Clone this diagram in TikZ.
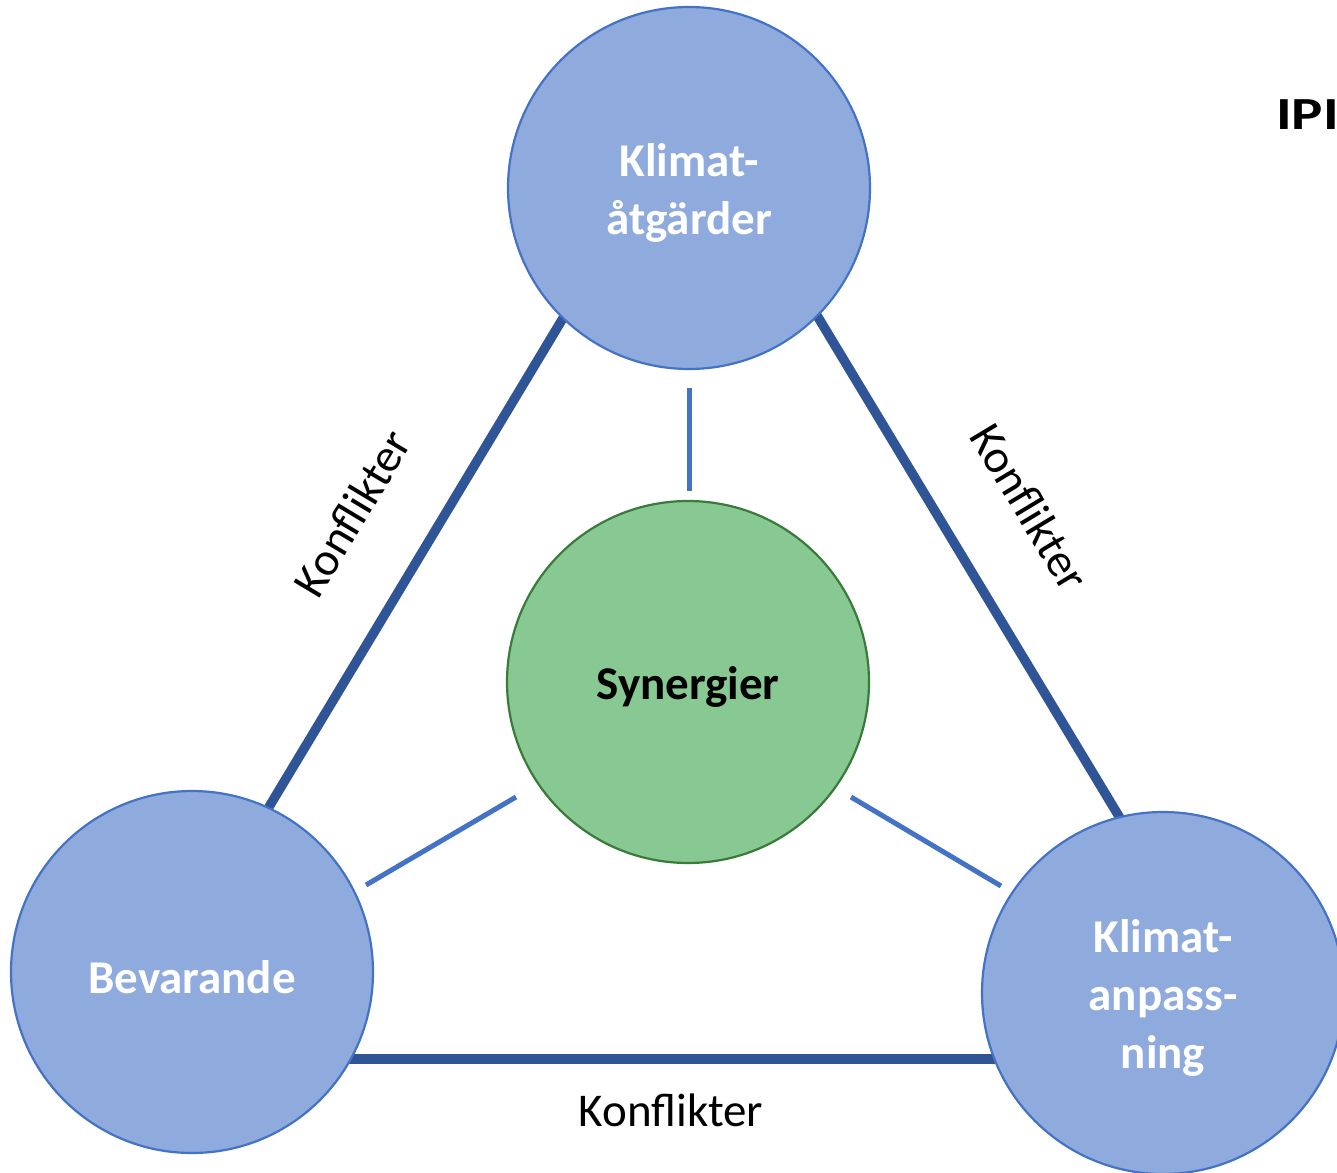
\documentclass[tikz,border=0pt]{standalone}
\usepackage{fontspec}
\setmainfont{Carlito}
\usetikzlibrary{backgrounds}
\definecolor{cfill}{HTML}{8FAADC}
\definecolor{cborder}{HTML}{4472C4}
\definecolor{cdark}{HTML}{2F5597}
\definecolor{gfill}{HTML}{87C893}
\definecolor{gborder}{HTML}{3A7A3A}
\tikzset{
  bigcirc/.style={circle, minimum size=362pt, inner sep=0pt, line width=2.2pt, draw=cborder, fill=cfill},
  syncirc/.style={circle, minimum size=362pt, inner sep=0pt, line width=2.2pt, draw=gborder, fill=gfill},
  ctext/.style={align=center, font=\fontsize{47}{58}\selectfont\bfseries, text=white, inner sep=0pt, yshift=-5pt},
  conflict/.style={line width=9.5pt, draw=cdark},
  synline/.style={line width=5pt, draw=cborder},
  lbl/.style={font=\fontsize{47}{57}\selectfont, text=black, inner sep=0pt}
}
\begin{document}
\begin{tikzpicture}[x=1pt,y=-1pt]
\useasboundingbox (0,0) rectangle (1337,1172);
\begin{scope}
\clip (0,0) rectangle (1337,1172);
% circles
\node[bigcirc, label={[ctext]center:{Klimat-\\åtgärder}}] (top) at (689,188) {};
\node[syncirc, label={[ctext, text=black]center:{Synergier}}] (syn) at (688,682) {};
\node[bigcirc, label={[ctext]center:{Bevarande}}] (bev) at (192,972) {};
\node[bigcirc, label={[ctext]center:{Klimat-\\anpass-\\ning}}] (anp) at (1163,993) {};
% coordinates
\coordinate (kb) at (671,1059);
\coordinate (s1a) at (689,388);
\coordinate (s1b) at (689,491);
\coordinate (s2a) at (516,797);
\coordinate (s2b) at (366,885);
\coordinate (s3a) at (851,797);
\coordinate (s3b) at (1001,886);
\begin{scope}[on background layer]
  \draw[conflict, shorten <=-6pt, shorten >=-6pt] (bev.65.4) -- (top.-134.1);
  \draw[conflict, shorten <=-6pt, shorten >=-6pt] (top.-45.7) -- (anp.104.7);
  \draw[conflict, line width=10pt] (bev.center |- kb) -- (anp.center |- kb);
\end{scope}
\draw[synline] (s1a) -- (s1b);
\draw[synline] (s2a) -- (s2b);
\draw[synline] (s3a) -- (s3b);
% labels
\node[lbl, rotate=59] (l1) at (352,513) {Konflikter};
\node[lbl, rotate=-59] (l2) at (1030,507) {Konflikter};
\node[lbl] (l3) at (671,1110) {Konflikter};
\node[lbl, font=\fontsize{46}{52}\selectfont\bfseries, anchor=base west] (ipi) at (1276,129) {\scalebox{1.28}[1]{IPI}};
\end{scope}
\end{tikzpicture}
\end{document}
